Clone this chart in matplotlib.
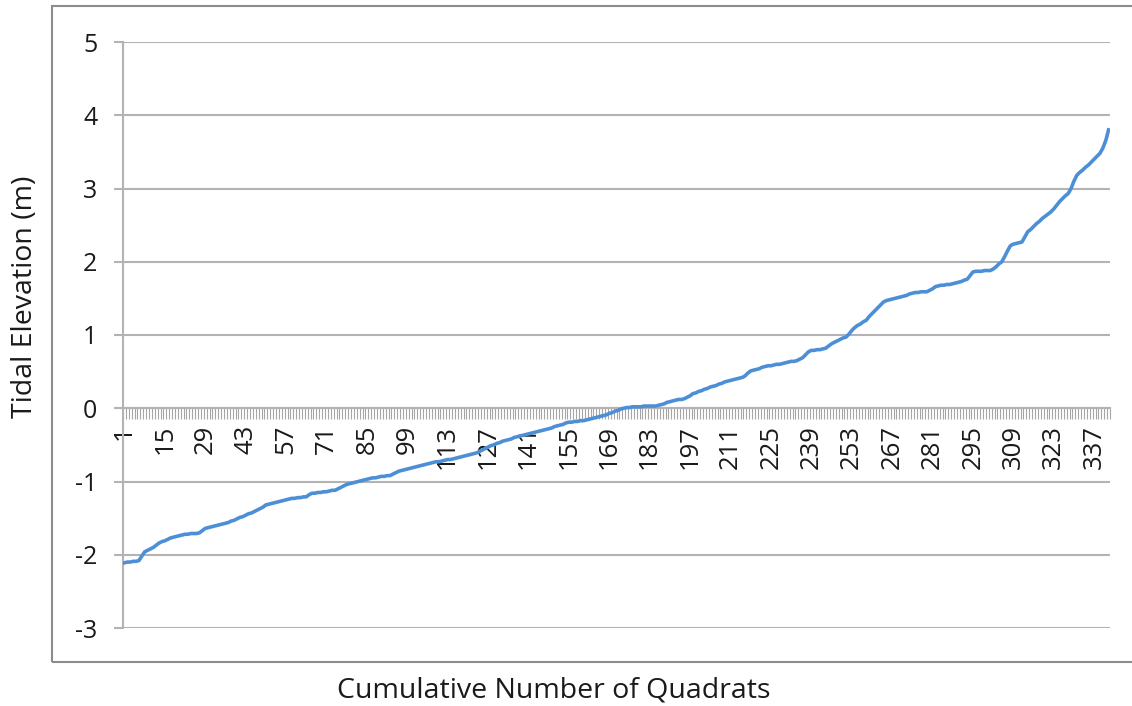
import matplotlib.pyplot as plt
from matplotlib.patches import Rectangle
import numpy as np

# tidal elevation (m) for each quadrat, sorted
elev = [
    -2.11, -2.10, -2.10, -2.09, -2.09, -2.08, -2.02, -1.96, -1.94, -1.92, -1.90, -1.87, -1.84, -1.82, -1.81, -1.79, -1.77, -1.76,
    -1.75, -1.74, -1.73, -1.72, -1.72, -1.71, -1.71, -1.71, -1.70, -1.67, -1.64, -1.63, -1.62, -1.61, -1.60, -1.59, -1.58, -1.57,
    -1.56, -1.54, -1.53, -1.51, -1.49, -1.48, -1.46, -1.44, -1.43, -1.41, -1.39, -1.37, -1.35, -1.32, -1.31, -1.30, -1.29, -1.28,
    -1.27, -1.26, -1.25, -1.24, -1.23, -1.23, -1.22, -1.22, -1.21, -1.21, -1.18, -1.16, -1.16, -1.15, -1.15, -1.14, -1.14, -1.13,
    -1.12, -1.12, -1.10, -1.08, -1.06, -1.04, -1.03, -1.02, -1.01, -1.00, -0.99, -0.98, -0.97, -0.96, -0.95, -0.95, -0.94, -0.93,
    -0.93, -0.92, -0.92, -0.90, -0.88, -0.86, -0.85, -0.84, -0.83, -0.82, -0.81, -0.80, -0.79, -0.78, -0.77, -0.76, -0.75, -0.74,
    -0.73, -0.73, -0.72, -0.71, -0.70, -0.70, -0.69, -0.68, -0.67, -0.66, -0.65, -0.64, -0.63, -0.62, -0.61, -0.59, -0.57, -0.55,
    -0.53, -0.51, -0.50, -0.48, -0.47, -0.45, -0.44, -0.43, -0.42, -0.40, -0.39, -0.38, -0.37, -0.36, -0.35, -0.34, -0.33, -0.32,
    -0.31, -0.30, -0.29, -0.28, -0.27, -0.25, -0.24, -0.23, -0.22, -0.20, -0.19, -0.19, -0.18, -0.18, -0.17, -0.17, -0.16, -0.15,
    -0.14, -0.13, -0.12, -0.11, -0.10, -0.09, -0.07, -0.06, -0.04, -0.03, -0.01, 0.00, 0.01, 0.01, 0.02, 0.02, 0.02, 0.02,
    0.03, 0.03, 0.03, 0.03, 0.03, 0.04, 0.05, 0.06, 0.08, 0.09, 0.10, 0.11, 0.12, 0.12, 0.13, 0.15, 0.17, 0.20,
    0.21, 0.23, 0.24, 0.26, 0.27, 0.29, 0.30, 0.31, 0.33, 0.34, 0.36, 0.37, 0.38, 0.39, 0.40, 0.41, 0.42, 0.44,
    0.48, 0.51, 0.52, 0.53, 0.54, 0.56, 0.57, 0.58, 0.58, 0.59, 0.60, 0.60, 0.61, 0.62, 0.63, 0.64, 0.64, 0.65,
    0.67, 0.69, 0.73, 0.77, 0.79, 0.79, 0.80, 0.80, 0.81, 0.82, 0.85, 0.88, 0.90, 0.92, 0.94, 0.96, 0.97, 1.01,
    1.06, 1.10, 1.13, 1.15, 1.18, 1.20, 1.25, 1.29, 1.33, 1.37, 1.41, 1.45, 1.47, 1.48, 1.49, 1.50, 1.51, 1.52,
    1.53, 1.54, 1.56, 1.57, 1.58, 1.58, 1.59, 1.59, 1.59, 1.61, 1.63, 1.66, 1.67, 1.68, 1.68, 1.69, 1.69, 1.70,
    1.71, 1.72, 1.73, 1.75, 1.76, 1.81, 1.86, 1.87, 1.87, 1.87, 1.88, 1.88, 1.88, 1.90, 1.93, 1.97, 2.00, 2.07,
    2.15, 2.22, 2.24, 2.25, 2.26, 2.27, 2.34, 2.41, 2.44, 2.48, 2.52, 2.55, 2.59, 2.62, 2.65, 2.68, 2.72, 2.77,
    2.82, 2.86, 2.90, 2.93, 3.00, 3.10, 3.18, 3.22, 3.25, 3.29, 3.32, 3.36, 3.40, 3.44, 3.48, 3.55, 3.65, 3.80,
]
quadrats = list(range(1, len(elev) + 1))
label_quadrats = quadrats[::14]
y_ticks = [-3, -2, -1, 0, 1, 2, 3, 4, 5]

plt.rcParams['font.family'] = ['Open Sans', 'DejaVu Sans']
plt.rcParams['axes.unicode_minus'] = False
text_col = '#1a1a1a'
grid_col = '#b3b3b3'

fig = plt.figure(figsize=(11.32, 7.06), dpi=100)
ax = fig.add_axes([123 / 1132, 1 - 628 / 706, (1110 - 123) / 1132, (628 - 42) / 706])

# outer chart frame
fig.patches.append(Rectangle((52 / 1132, 1 - 662 / 706), 1.2, (662 - 6) / 706,
                             transform=fig.transFigure, fill=False,
                             edgecolor='#8c8c8c', linewidth=1.5))

ax.plot(quadrats, elev, color='#4d8fd6', linewidth=2.6, solid_joinstyle='round', zorder=3)

ax.set_xlim(0.5, len(elev) + 0.5)
ax.set_ylim(-3, 5)
ax.set_yticks(y_ticks)
ax.yaxis.grid(True, color=grid_col, linewidth=1.5)
ax.set_axisbelow(True)

ax.spines['top'].set_visible(False)
ax.spines['right'].set_visible(False)
ax.spines['bottom'].set_position(('data', 0))
ax.spines['bottom'].set_color(grid_col)
ax.spines['bottom'].set_linewidth(1.5)
ax.spines['left'].set_color(grid_col)
ax.spines['left'].set_linewidth(1.5)

ax.set_xticks(label_quadrats)
ax.set_xticklabels([str(q) for q in label_quadrats], rotation=90, fontsize=18.5, color=text_col)
ax.set_xticks(np.arange(0.5, len(elev) + 1, 1), minor=True)
ax.tick_params(axis='x', which='major', length=0, pad=12)
ax.tick_params(axis='x', which='minor', length=8, width=0.8, color='#a6a6a6')
ax.tick_params(axis='y', length=6.5, width=1.5, color=grid_col, pad=12, labelsize=18, labelcolor=text_col)

fig.text(25 / 1132, 1 - 297 / 706, 'Tidal Elevation (m)', rotation=90, ha='center', va='center',
         fontsize=20.5, color=text_col)
fig.text(554 / 1132, 1 - 690 / 706, 'Cumulative Number of Quadrats', ha='center', va='center',
         fontsize=20.5, color=text_col)

fig.savefig('out.png', dpi=100)
